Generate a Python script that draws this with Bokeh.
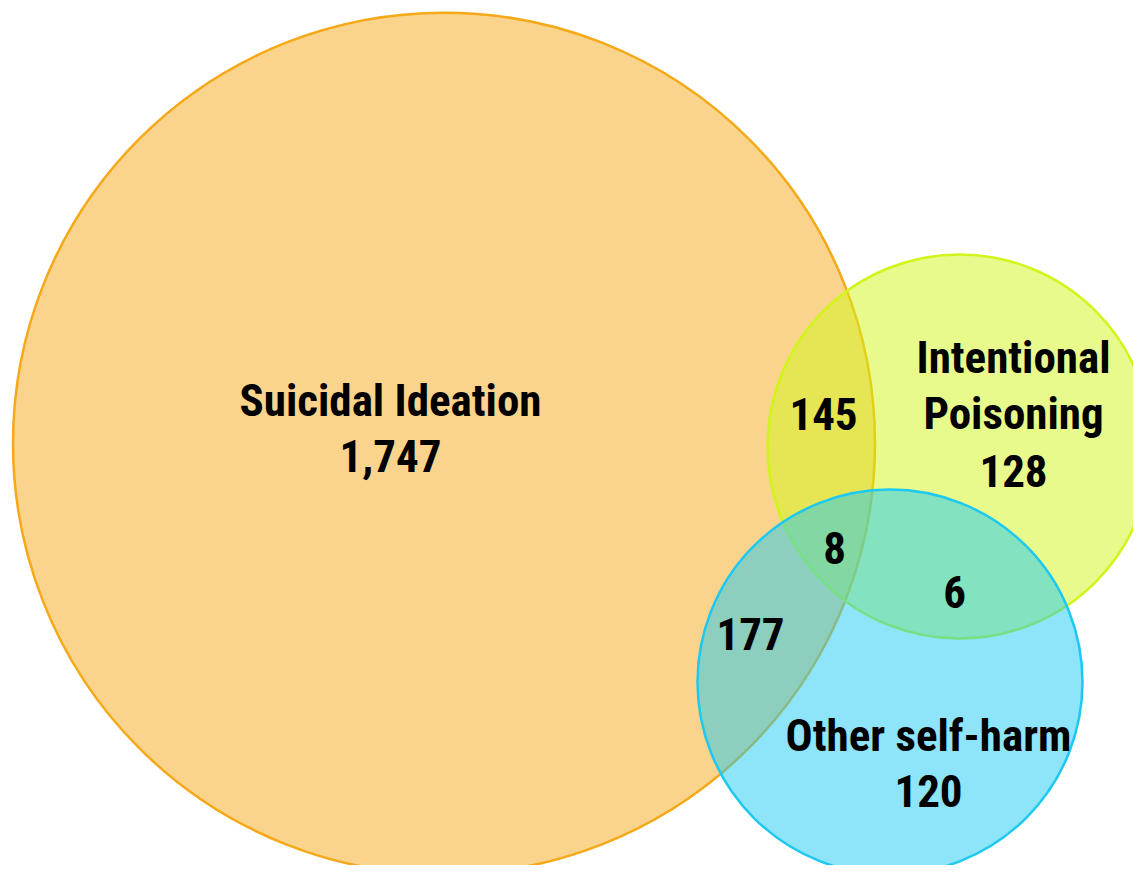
from bokeh.plotting import figure
from bokeh.models import Range1d, ColumnDataSource
from bokeh.core.properties import value
from bokeh.embed import file_html
from bokeh.resources import INLINE

# ---- data ----
set_names = ["Suicidal Ideation", "Intentional\nPoisoning", "Other self-harm"]
set_only_counts = [1747, 128, 120]
overlap_names = ["SI & IP", "SI & OSH", "IP & OSH", "All three"]
overlap_counts = [145, 177, 6, 8]

# ---- layout (pixel-space of the picture) ----
circle_cx = [443.5, 959, 889.5]
circle_cy = [443, 446, 681.5]
circle_r = [431, 192, 192.5]
circle_colors = ["#F5A919", "#D1F519", "#1DC9F1"]

set_label_x = [390, 1013, 928]
set_label_y = [[400, 455], [357, 413, 470], [735, 790]]
overlap_label_x = [823, 750, 954, 834]
overlap_label_y = [413, 633, 591, 547]

FONT = value("'Roboto Condensed', 'Liberation Sans Narrow', 'DejaVu Sans Condensed', sans-serif")
FS = "45px"

W, H = 1133, 865
p = figure(width=W, height=H, output_backend="svg", toolbar_location=None,
           x_range=Range1d(0, W), y_range=Range1d(H, 0),
           min_border=0, min_border_left=0, min_border_right=0,
           min_border_top=0, min_border_bottom=0)
p.axis.visible = False
p.grid.visible = False
p.outline_line_color = None
p.background_fill_color = "white"
p.border_fill_color = "white"

for cx, cy, r, c in zip(circle_cx, circle_cy, circle_r, circle_colors):
    p.circle(x=[cx], y=[cy], radius=r, radius_dimension="x",
             fill_color=c, fill_alpha=0.5, line_color=c, line_alpha=1.0,
             line_width=2.5)

# set labels
tx, ty, tt = [], [], []
for name, cnt, lx, lys in zip(set_names, set_only_counts, set_label_x, set_label_y):
    lines = name.split("\n") + [f"{cnt:,}"]
    for line, ly in zip(lines, lys):
        tx.append(lx); ty.append(ly); tt.append(line)
for cnt, lx, ly in zip(overlap_counts, overlap_label_x, overlap_label_y):
    tx.append(lx); ty.append(ly); tt.append(f"{cnt:,}")

src = ColumnDataSource(dict(x=tx, y=ty, text=tt))
p.text(x="x", y="y", text="text", source=src, text_align="center",
       text_baseline="alphabetic", text_font=FONT, text_font_style="bold",
       text_font_size=FS, text_color="black")

open("out.html", "w").write(file_html(p, INLINE))
